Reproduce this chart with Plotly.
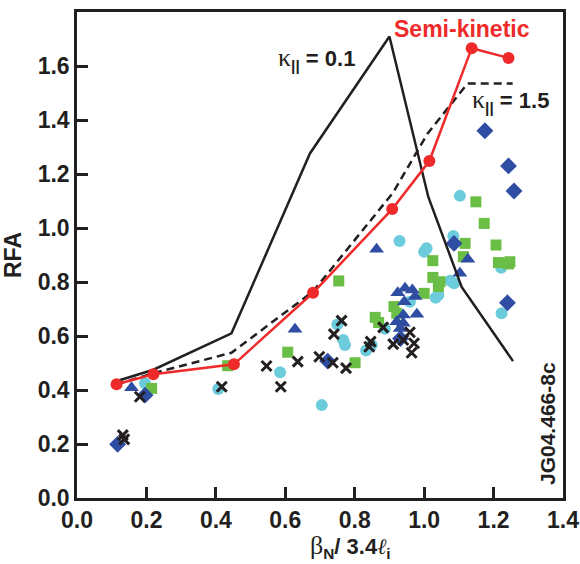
import plotly.graph_objects as go

# Semi-kinetic model curve
semi_x = [0.114, 0.22, 0.452, 0.68, 0.908, 1.015, 1.137, 1.243]
semi_y = [0.421, 0.458, 0.495, 0.760, 1.070, 1.248, 1.666, 1.630]

# kappa_par = 0.1 curve
k01_x = [0.12, 0.22, 0.445, 0.671, 0.90, 1.012, 1.108, 1.256]
k01_y = [0.435, 0.475, 0.610, 1.276, 1.709, 1.115, 0.782, 0.507]

# kappa_par = 1.5 curve
k15_x = [0.114, 0.22, 0.445, 0.68, 0.91, 1.01, 1.125, 1.255]
k15_y = [0.421, 0.462, 0.538, 0.765, 1.130, 1.350, 1.535, 1.535]

# Experimental points, grouped by marker
tri_x = [0.157, 0.628, 0.863, 0.924, 0.945, 0.966, 0.974, 0.943, 0.979, 0.940, 0.921, 0.940, 0.931, 1.126, 1.103]
tri_y = [0.408, 0.625, 0.921, 0.760, 0.777, 0.770, 0.746, 0.727, 0.681, 0.678, 0.653, 0.647, 0.628, 0.884, 0.832]

dia_x = [0.117, 0.196, 0.722, 0.932, 1.086, 1.175, 1.243, 1.259, 1.240]
dia_y = [0.199, 0.381, 0.507, 0.591, 0.943, 1.360, 1.230, 1.137, 0.723]

cir_x = [0.196, 0.407, 0.585, 0.705, 0.750, 0.767, 0.772, 0.833, 0.849, 0.887, 0.929, 1.000, 1.007,
         1.084, 1.103, 1.075, 1.086, 1.033, 1.041, 0.959, 1.222, 1.223]
cir_y = [0.425, 0.404, 0.466, 0.344, 0.643, 0.585, 0.567, 0.546, 0.567, 0.627, 0.952, 0.912, 0.925,
         0.970, 1.119, 0.805, 0.795, 0.742, 0.752, 0.727, 0.853, 0.684]

sq_x = [0.215, 0.434, 0.607, 0.754, 0.801, 0.859, 0.869, 0.913, 0.921, 1.000, 1.025, 1.025, 1.046,
        1.041, 1.113, 1.118, 1.149, 1.173, 1.207, 1.214, 1.247, 1.243]
sq_y = [0.406, 0.490, 0.540, 0.804, 0.501, 0.669, 0.650, 0.709, 0.684, 0.758, 0.817, 0.879, 0.801,
        0.783, 0.894, 0.943, 1.097, 1.017, 0.937, 0.872, 0.875, 0.867]

x_x = [0.132, 0.136, 0.181, 0.417, 0.546, 0.587, 0.636, 0.698, 0.737, 0.775, 0.740, 0.762, 0.846,
       0.842, 0.882, 0.911, 0.940, 0.959, 0.971, 0.964]
x_y = [0.233, 0.217, 0.375, 0.412, 0.489, 0.412, 0.505, 0.523, 0.501, 0.481, 0.607, 0.657, 0.579,
       0.560, 0.632, 0.570, 0.585, 0.614, 0.573, 0.538]

x_ticks = [0.0, 0.2, 0.4, 0.6, 0.8, 1.0, 1.2, 1.4]
y_ticks = [0.0, 0.2, 0.4, 0.6, 0.8, 1.0, 1.2, 1.4, 1.6]

SANS = "Liberation Sans Narrow, Liberation Sans, Arial, sans-serif"
SERIF = "Liberation Serif, Times New Roman, serif"
RED = "#EE2A2A"
BLUE = "#2F4EA3"
CYAN = "#6CCCDC"
GREEN = "#6BBE45"
INK = "#231F20"

fig = go.Figure()

fig.add_trace(go.Scatter(x=cir_x, y=cir_y, mode="markers",
                         marker=dict(symbol="circle", size=12, color=CYAN, line=dict(width=0))))
fig.add_trace(go.Scatter(x=sq_x, y=sq_y, mode="markers",
                         marker=dict(symbol="square", size=11, color=GREEN, line=dict(width=0))))
fig.add_trace(go.Scatter(x=tri_x, y=tri_y, mode="markers",
                         marker=dict(symbol="triangle-up", size=13, color=BLUE, line=dict(width=0))))
fig.add_trace(go.Scatter(x=dia_x, y=dia_y, mode="markers",
                         marker=dict(symbol="diamond", size=13, color=BLUE, line=dict(width=0))))
fig.add_trace(go.Scatter(x=x_x, y=x_y, mode="markers",
                         marker=dict(symbol="x-thin", size=10, color=INK, line=dict(width=3, color=INK))))

fig.add_trace(go.Scatter(x=k01_x, y=k01_y, mode="lines", line=dict(color=INK, width=2.5)))
fig.add_trace(go.Scatter(x=k15_x, y=k15_y, mode="lines",
                         line=dict(color=INK, width=2.5, dash="8px,5px")))
fig.add_trace(go.Scatter(x=semi_x, y=semi_y, mode="lines+markers",
                         line=dict(color=RED, width=2.5),
                         marker=dict(symbol="circle", size=12, color=RED)))

axis_common = dict(
    showgrid=False, zeroline=False, automargin=False,
    showline=True, linecolor=INK, linewidth=2.5, mirror=True,
    ticks="inside", ticklen=11, tickwidth=2.5, tickcolor=INK,
    tickfont=dict(family=SANS, size=23, color=INK, weight="bold"),
)

fig.update_xaxes(range=[0, 1.4], tickvals=x_ticks, ticktext=[f"{v:.1f}" for v in x_ticks],
                 **axis_common)
fig.update_yaxes(range=[0, 1.8], tickvals=y_ticks, ticktext=[f"{v:.1f}" for v in y_ticks],
                 title=dict(text="RFA", font=dict(family=SANS, size=23, color=INK, weight="bold"),
                            standoff=10),
                 **axis_common)

annotations = [
    dict(x=462, y=29, text="<b>Semi-kinetic</b>",
         font=dict(family=SANS, size=23, color=RED)),
    dict(x=316, y=58,
         text=f"<span style='font-family:{SERIF};font-size:26px'>κ</span><sub><b>||</b></sub><b> = 0.1</b>",
         font=dict(family=SANS, size=22, color=INK)),
    dict(x=510, y=100,
         text=f"<span style='font-family:{SERIF};font-size:26px'>κ</span><sub><b>||</b></sub><b> = 1.5</b>",
         font=dict(family=SANS, size=22, color=INK)),
    dict(x=547, y=424, text="<b>JG04.466-8c</b>", textangle=-90,
         font=dict(family=SANS, size=21, color=INK)),
    dict(x=350, y=546,
         text=f"<span style='font-family:{SERIF};font-size:26px'>β</span><sub><b>N</b></sub><b>/ 3.4</b>"
              f"<span style='font-family:{SERIF}'><i>ℓ</i></span><sub><b>i</b></sub>",
         font=dict(family=SANS, size=22, color=INK)),
]
for a in annotations:
    a.update(xref="paper", yref="paper", showarrow=False, xanchor="center", yanchor="middle")

# convert pixel positions to paper coordinates for the annotation layer
L, R, T, B, W, H = 77, 17, 12, 66, 580, 564
pw, ph = W - L - R, H - T - B
for a in annotations:
    a["x"] = (a["x"] - L) / pw
    a["y"] = 1 - (a["y"] - T) / ph

fig.update_layout(
    width=W, height=H,
    margin=dict(l=L, r=R, t=T, b=B),
    paper_bgcolor="white", plot_bgcolor="white",
    showlegend=False,
    annotations=annotations,
)

fig.write_html("out.html")
